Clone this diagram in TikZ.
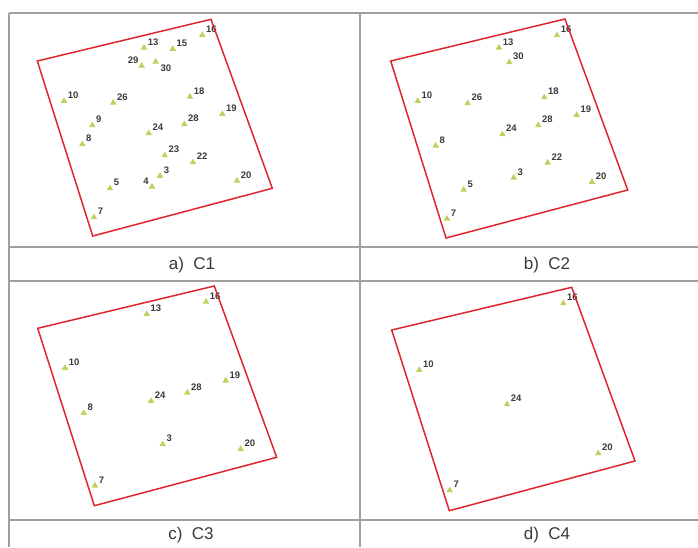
\documentclass[tikz,border=0pt]{standalone}
\usepackage{fontspec}
\setmainfont{Liberation Sans}
\usepackage{xcolor}
\usepackage{tikz}
\usetikzlibrary{positioning,shapes.geometric}
\definecolor{stngreen}{RGB}{192,208,92}
\definecolor{frmred}{RGB}{222,38,46}
\definecolor{txtgray}{RGB}{58,58,58}
\newcommand{\stn}[5][above right=0pt and 1.5pt]{\node[stn] (#2) at (#3,#4) {}; \node[lbl,#1 of #2] (#2t) {#5};}
\newcommand{\capt}[4]{\node[capt] (#1) at (#2,#3) {#4};}

\begin{document}
\begin{tikzpicture}[x=1pt,y=-1pt,line width=0.5pt,
  stn/.style={regular polygon,regular polygon sides=3,fill=stngreen,inner sep=0pt,minimum size=7.6pt},
  lbl/.style={font=\fontsize{9.5}{9.5}\selectfont\bfseries,text=txtgray,inner sep=0.5pt},
  capt/.style={font=\fontsize{17}{19}\selectfont,text=txtgray},
  frame/.style={draw=frmred,line width=1.5pt,line join=miter},
  grid/.style={draw=gray!75,line width=1.1pt}]
\useasboundingbox (0,0) rectangle (698,547);

% table lines
\draw[grid] (9,13) -- (698,13);
\foreach \y in {247,281,520}
  { \draw[grid] (9,\y) -- (698,\y); }
\draw[grid] (9,13) -- (9,547);
\draw[grid] (360,13) -- (360,547);

% a) C1
\stn{a16}{202.3}{35}{16}
\stn{a13}{144}{47.7}{13}
\stn{a15}{172.7}{49}{15}
\stn[above left=0pt and 1pt]{a29}{141.7}{65.7}{29}
\stn[below right=0pt and 2pt]{a30}{155.7}{61.7}{30}
\stn{a10}{64}{101}{10}
\stn{a26}{113.3}{102.7}{26}
\stn{a18}{190}{96.7}{18}
\stn{a19}{222.3}{114}{19}
\stn{a9}{92.3}{125.3}{9}
\stn{a28}{184.3}{124.3}{28}
\stn{a24}{148.7}{133.3}{24}
\stn{a8}{82.3}{144.3}{8}
\stn{a23}{164.7}{155.3}{23}
\stn{a22}{193}{162.3}{22}
\stn{a3}{160}{176}{3}
\stn[above left=0pt and 1pt]{a4}{152}{186.7}{4}
\stn{a5}{110}{188.3}{5}
\stn{a20}{237}{180.7}{20}
\stn{a7}{94}{217.3}{7}
\draw[frame] (37.3,61) -- (211,19.3) -- (272.3,188.3) -- (92.7,236) -- cycle;

% b) C2
\stn{b16}{557}{35.3}{16}
\stn{b13}{499}{47.7}{13}
\stn{b30}{509.3}{62.3}{30}
\stn{b10}{417.7}{101}{10}
\stn{b26}{467.7}{103.3}{26}
\stn{b18}{544.3}{97.3}{18}
\stn{b19}{576.7}{115}{19}
\stn{b28}{538.3}{125.3}{28}
\stn{b24}{502.3}{134.3}{24}
\stn{b8}{435.7}{145.7}{8}
\stn{b22}{547.7}{162.7}{22}
\stn{b3}{513.7}{177.7}{3}
\stn{b5}{463.7}{189.7}{5}
\stn{b20}{592}{182}{20}
\stn{b7}{447}{218.7}{7}
\draw[frame] (390.7,61) -- (565,19) -- (627.7,190) -- (446,238) -- cycle;

% c) C3
\stn{c16}{206}{301.7}{16}
\stn{c13}{146.7}{314}{13}
\stn{c10}{65}{368}{10}
\stn{c19}{225.7}{380.7}{19}
\stn{c28}{187.3}{392.7}{28}
\stn{c24}{151}{401}{24}
\stn{c8}{83.7}{413}{8}
\stn{c3}{162.7}{444.3}{3}
\stn{c20}{240.7}{449}{20}
\stn{c7}{95}{485.7}{7}
\draw[frame] (37.7,328.3) -- (214.3,286) -- (276.7,457.3) -- (94.3,505.7) -- cycle;

% d) C4
\stn{d16}{563.3}{303.3}{16}
\stn{d10}{419.3}{370}{10}
\stn{d24}{507}{404.3}{24}
\stn{d20}{598.3}{453.3}{20}
\stn{d7}{449.7}{490.3}{7}
\draw[frame] (391.7,330) -- (571.7,287.3) -- (635,461) -- (449.3,510.7) -- cycle;

% captions
\capt{capa}{192}{265}{a)\ \ C1}
\capt{capb}{547}{265}{b)\ \ C2}
\capt{capc}{191}{535}{c)\ \ C3}
\capt{capd}{547}{535}{d)\ \ C4}
\end{tikzpicture}
\end{document}
